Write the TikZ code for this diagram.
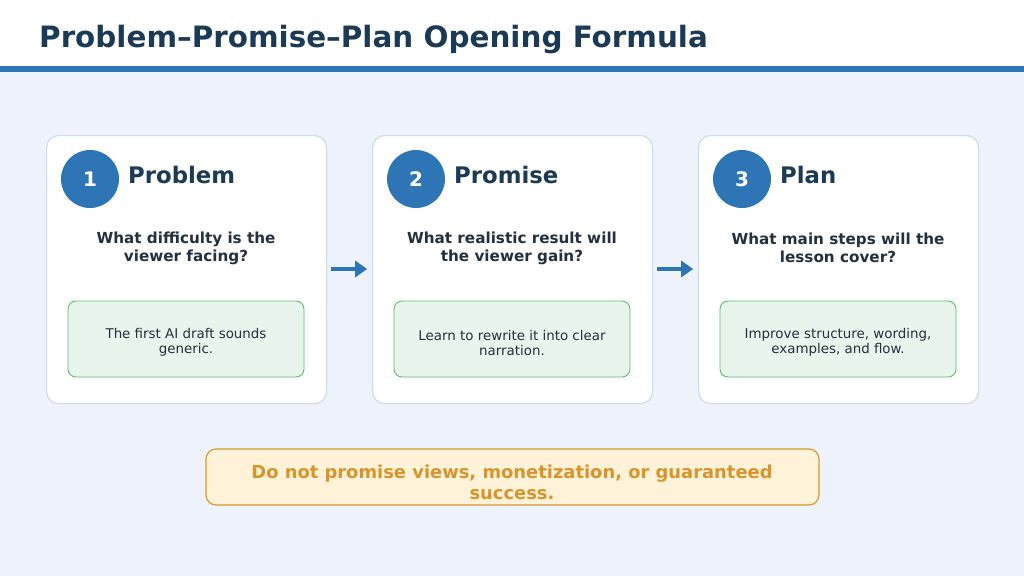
\documentclass[tikz,border=0pt]{standalone}
\usepackage{fontspec}
\setmainfont{DejaVu Sans}
\usetikzlibrary{arrows.meta}
\definecolor{bg}{HTML}{EEF3FB}
\definecolor{accent}{HTML}{2E75B6}
\definecolor{titlec}{HTML}{1B3A56}
\definecolor{cardborder}{HTML}{CADCEA}
\definecolor{darktext}{HTML}{22303F}
\definecolor{greenfill}{HTML}{E8F5EC}
\definecolor{greenborder}{HTML}{5DBB72}
\definecolor{warnfill}{HTML}{FEF2D8}
\definecolor{warnborder}{HTML}{DB982E}
\definecolor{warntext}{HTML}{D9952B}
\tikzset{
  x=1pt, y=-1pt,
  card/.style={draw=cardborder, line width=1.2pt, fill=white, rounded corners=12pt},
  numcircle/.style={circle, fill=accent, minimum size=58pt, inner sep=0pt, text=white, font=\fontsize{20}{24}\selectfont\bfseries},
  heading/.style={anchor=base west, text=titlec, font=\fontsize{22.8}{27}\selectfont\bfseries, inner sep=0pt},
  question/.style={align=center, text=darktext, font=\fontsize{15.2}{18}\selectfont\bfseries, inner sep=0pt},
  answerbox/.style={draw=greenborder, line width=0.9pt, fill=greenfill, rounded corners=8pt, minimum width=236pt, minimum height=76pt, inner sep=0pt},
  answertext/.style={align=center, text=darktext, font=\fontsize{13.4}{15}\selectfont, inner sep=0pt},
  flowarrow/.style={draw=accent, line width=4.5pt, -{Triangle[length=12pt,width=16pt]}},
}
\begin{document}
\begin{tikzpicture}
\useasboundingbox (0,0) rectangle (1024,576);
\fill[bg] (0,0) rectangle (1024,576);
\fill[white] (0,0) rectangle (1024,66);
\fill[accent] (0,66) rectangle (1024,71.5);
\node[anchor=base west, inner sep=0pt, text=titlec, font=\fontsize{29.4}{34}\selectfont\bfseries] (title) at (39,47) {Problem–Promise–Plan Opening Formula};

% cards
\node[card, minimum width=280pt, minimum height=268pt, anchor=north west, inner sep=0pt] (c1) at (46,135) {};
\node[card, minimum width=280pt, minimum height=268pt, anchor=north west, inner sep=0pt] (c2) at (372,135) {};
\node[card, minimum width=280pt, minimum height=268pt, anchor=north west, inner sep=0pt] (c3) at (698,135) {};

\node[numcircle] (n1) at (90,179) {\raisebox{-3pt}{1}};
\node[numcircle] (n2) at (416,179) {\raisebox{-3pt}{2}};
\node[numcircle] (n3) at (742,179) {\raisebox{-3pt}{3}};

\node[heading] (h1) at (128,183) {Problem};
\node[heading] (h2) at (454,183) {Promise};
\node[heading] (h3) at (780,183) {Plan};

\node[question] (q1) at (186,248) {What difficulty is the\\viewer facing?};
\node[question] (q2) at (512,248) {What realistic result will\\the viewer gain?};
\node[question] (q3) at (838,248) {What main steps will the\\lesson cover?};

\node[answerbox] (a1) at (186,339) {};
\node[answerbox] (a2) at (512,339) {};
\node[answerbox] (a3) at (838,339) {};
\node[answertext] (t1) at (186,342.5) {The first AI draft sounds\\generic.};
\node[answertext] (t2) at (512,342.5) {Learn to rewrite it into clear\\narration.};
\node[answertext] (t3) at (838,342.5) {Improve structure, wording,\\examples, and flow.};

\draw[flowarrow] (c1.east |- 0,269) ++(4,0) coordinate (s1) -- ++(36,0) coordinate (e1);
\draw[flowarrow] (c2.east |- 0,269) ++(4,0) coordinate (s2) -- ++(36,0) coordinate (e2);

\node[draw=warnborder, line width=1.2pt, fill=warnfill, rounded corners=10pt, minimum width=613pt, minimum height=56pt, inner sep=0pt] (warn) at (512.5,477) {};
\node[align=center, inner sep=0pt, text=warntext, font=\fontsize{17.9}{21}\selectfont\bfseries] (warnlabel) at (512,482) {Do not promise views, monetization, or guaranteed\\success.};
\end{tikzpicture}
\end{document}
